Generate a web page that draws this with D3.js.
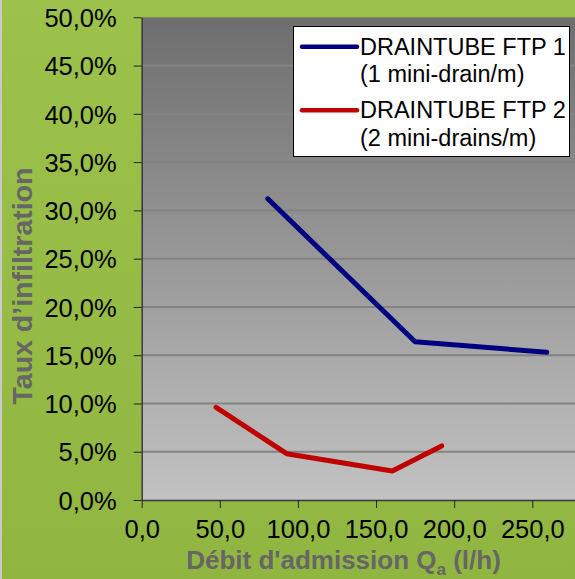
<!DOCTYPE html>
<html>
<head>
<meta charset="utf-8">
<script src="https://cdn.jsdelivr.net/npm/d3@7"></script>
<style>
  body { margin: 0; background: #fff; }
  svg { display: block; font-family: "Liberation Sans", Arial, sans-serif; }
</style>
</head>
<body>
<script>
// data
const ftp1X = [80.7, 175, 259.3];
const ftp1Y = [0.312, 0.164, 0.153];
const ftp2X = [47.6, 92.8, 160.4, 192];
const ftp2Y = [0.096, 0.048, 0.030, 0.056];
const seriesNames = ["DRAINTUBE FTP 1", "DRAINTUBE FTP 2"];
const seriesSub = ["(1 mini-drain/m)", "(2 mini-drains/m)"];
const seriesColors = ["#000080", "#c00000"];
const xTicks = [0, 50, 100, 150, 200, 250];
const yTicks = [0, 0.05, 0.1, 0.15, 0.2, 0.25, 0.3, 0.35, 0.4, 0.45, 0.5];

const W = 575, H = 579;
const svg = d3.select("body").append("svg").attr("width", W).attr("height", H);

const defs = svg.append("defs");
const bgGrad = defs.append("linearGradient").attr("id", "bg").attr("x1", 0).attr("y1", 0).attr("x2", 0).attr("y2", 1);
bgGrad.append("stop").attr("offset", 0).attr("stop-color", "#9dc24b");
bgGrad.append("stop").attr("offset", 1).attr("stop-color", "#90b641");
const plotGrad = defs.append("linearGradient").attr("id", "plotbg").attr("x1", 0).attr("y1", 0).attr("x2", 0).attr("y2", 1);
plotGrad.append("stop").attr("offset", 0).attr("stop-color", "#6e6e6e");
plotGrad.append("stop").attr("offset", 1).attr("stop-color", "#c2c2c2");

svg.append("rect").attr("width", W).attr("height", H).attr("fill", "url(#bg)");
svg.append("rect").attr("width", 2).attr("height", H).attr("fill", "#c9c9c9");

const x = d3.scaleLinear().domain([0, 300]).range([141.7, 610.4]);
const y = d3.scaleLinear().domain([0, 0.5]).range([500, 17.3]);

// plot area
svg.append("rect")
  .attr("x", x(0)).attr("y", y(0.5))
  .attr("width", W - x(0)).attr("height", y(0) - y(0.5))
  .attr("fill", "url(#plotbg)");

// grid
svg.append("g").selectAll("line").data(yTicks.slice(1, -1)).enter().append("line")
  .attr("x1", x(0)).attr("x2", W)
  .attr("y1", d => y(d)).attr("y2", d => y(d))
  .attr("stroke", "#838383").attr("stroke-width", 2);

const fmtX = d => d.toFixed(1).replace(".", ",");
const fmtY = d => (d * 100).toFixed(1).replace(".", ",") + "%";

const xAxis = svg.append("g").attr("transform", `translate(0,${y(0)})`)
  .call(d3.axisBottom(x).tickValues(xTicks).tickFormat(fmtX).tickSize(8).tickSizeOuter(0).tickPadding(6));
const yAxis = svg.append("g").attr("transform", `translate(${x(0)},0)`)
  .call(d3.axisLeft(y).tickValues(yTicks).tickFormat(fmtY).tickSize(8).tickSizeOuter(0).tickPadding(17));

[xAxis, yAxis].forEach(a => {
  a.select(".domain").attr("stroke", "#3a3a3a").attr("stroke-width", 1.5);
  a.selectAll(".tick line").attr("stroke", "#222");
  a.selectAll("text").attr("fill", "#000").attr("font-size", 25.5)
    .attr("font-family", "'Liberation Sans', Arial, sans-serif");
});
xAxis.selectAll("text").attr("dy", "0.95em");
yAxis.selectAll("text").attr("dy", "0.36em");

// lines
const line = d3.line().x(d => x(d[0])).y(d => y(d[1]));
const series = [d3.zip(ftp1X, ftp1Y), d3.zip(ftp2X, ftp2Y)];
svg.append("g").selectAll("path").data(series).enter().append("path")
  .attr("d", line)
  .attr("fill", "none")
  .attr("stroke", (d, i) => seriesColors[i])
  .attr("stroke-width", 5)
  .attr("stroke-linejoin", "round")
  .attr("stroke-linecap", "round");

// axis titles
svg.append("text")
  .attr("x", 343.5).attr("y", 569)
  .attr("text-anchor", "middle")
  .attr("font-size", 26).attr("font-weight", "bold").attr("fill", "#666")
  .call(t => {
    t.append("tspan").text("Débit d'admission Q");
    t.append("tspan").text("a").attr("font-size", 17).attr("dy", 6);
    t.append("tspan").text(" (l/h)").attr("dy", -6);
  });

svg.append("text")
  .attr("transform", "translate(32,286) rotate(-90)")
  .attr("text-anchor", "middle")
  .attr("font-size", 28.5).attr("font-weight", "bold").attr("fill", "#666")
  .text("Taux d’infiltration");

// legend
const leg = svg.append("g");
leg.append("rect")
  .attr("x", 293.5).attr("y", 26.5).attr("width", 276).attr("height", 130)
  .attr("fill", "#fff").attr("stroke", "#000").attr("stroke-width", 1);
const items = leg.selectAll("g.item").data(seriesNames).enter().append("g")
  .attr("transform", (d, i) => `translate(0,${i * 63.5})`);
items.append("line")
  .attr("x1", 302).attr("x2", 357).attr("y1", 46.7).attr("y2", 46.7)
  .attr("stroke", (d, i) => seriesColors[i]).attr("stroke-width", 4.5).attr("stroke-linecap", "round");
items.append("text")
  .attr("x", 360).attr("y", 54.5)
  .attr("font-size", 23.5).attr("fill", "#000")
  .text(d => d);
items.append("text")
  .attr("x", 360).attr("y", 82)
  .attr("font-size", 23.5).attr("fill", "#000")
  .text((d, i) => seriesSub[i]);
</script>
</body>
</html>
